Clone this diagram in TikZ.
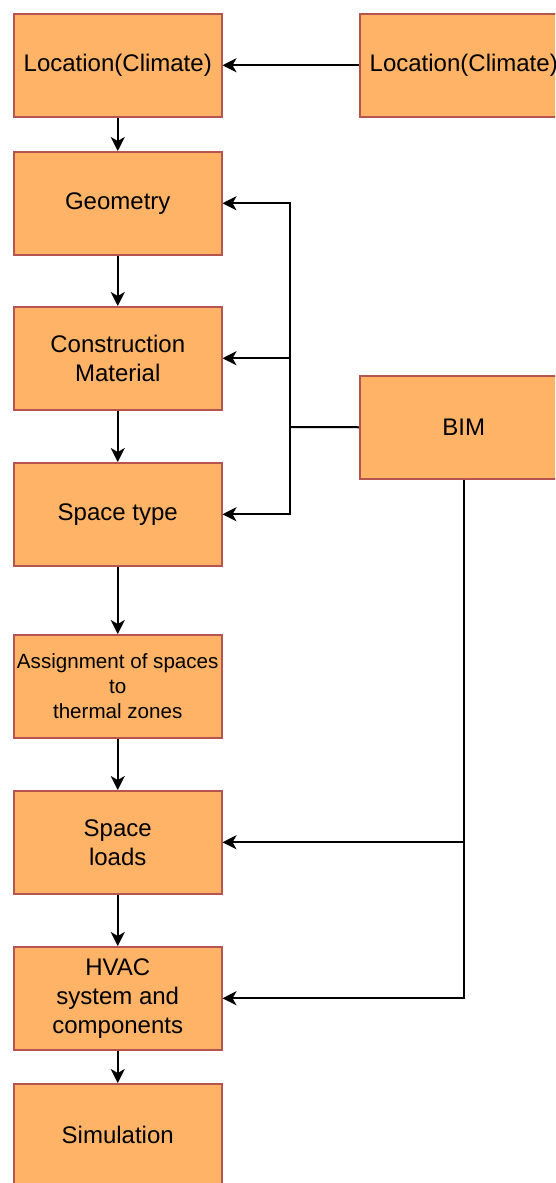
\documentclass[tikz,border=0pt]{standalone}
\usepackage{fontspec}
\setmainfont{Liberation Sans}
\usetikzlibrary{arrows.meta}
\definecolor{boxfill}{HTML}{FFB366}
\definecolor{boxline}{HTML}{B85450}
\begin{document}
\begin{tikzpicture}[x=1pt,y=-1pt,
  box/.style={draw=boxline, fill=boxfill, line width=1.5pt, minimum width=208pt,
    minimum height=103pt, inner sep=0pt, align=center,
    font=\fontsize{24}{29}\selectfont, anchor=north west},
  smalltext/.style={font=\fontsize{20.6}{24.7}\selectfont},
  arr/.style={line width=2pt, -{Stealth[length=14pt,width=14pt,inset=4pt]}},
  ln/.style={line width=2pt}]
\clip (0,0) rectangle (555,1183);
\node[box] (loc)  at (13,13)   {Location(Climate)};
\node[box] (geo)  at (13,151)  {Geometry};
\node[box] (con)  at (13,306)  {Construction\\Material};
\node[box] (spc)  at (13,462)  {Space type};
\node[box,smalltext] (asg) at (13,634) {Assignment of spaces\\to\\thermal zones};
\node[box] (load) at (13,790)  {Space\\loads};
\node[box] (hvac) at (13,946)  {HVAC\\system and\\components};
\node[box] (sim)  at (13,1083) {Simulation};
\node[box] (locr) at (359,13)  {Location(Climate)};
\node[box] (bim)  at (359,375) {BIM};
\draw[arr] (locr.west) -- (loc.east);
\draw[arr] (loc.south) -- (geo.north);
\draw[arr] (geo.south) -- (con.north);
\draw[arr] (con.south) -- (spc.north);
\draw[arr] (spc.south) -- (asg.north);
\draw[arr] (asg.south) -- (load.north);
\draw[arr] (load.south) -- (hvac.north);
\draw[arr] (hvac.south) -- (sim.north);
\coordinate (j) at (290,427);
\draw[ln] (bim.west) -- (j);
\draw[arr] (j) |- (geo.east);
\draw[arr] (j) |- (con.east);
\draw[arr] (j) |- (spc.east);
\draw[arr] (bim.south) |- (load.east);
\draw[arr] (bim.south) |- (hvac.east);
\end{tikzpicture}
\end{document}
